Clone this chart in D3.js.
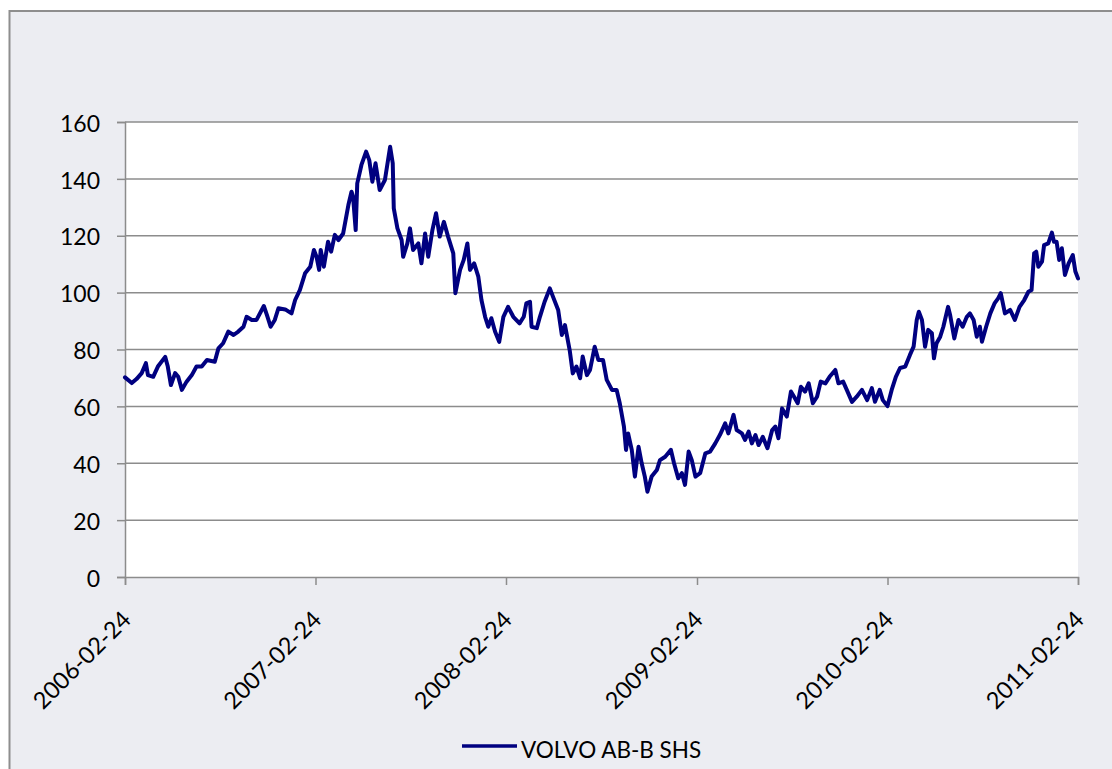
<!DOCTYPE html>
<html>
<head>
<meta charset="utf-8">
<script src="https://cdn.jsdelivr.net/npm/d3@7/dist/d3.min.js"></script>
<style>
  html, body { margin: 0; padding: 0; background: #ffffff; }
  svg { display: block; }
  text { font-family: Lato, "Open Sans", sans-serif; fill: #000; }
</style>
</head>
<body>
<svg id="chart" width="1112" height="769"></svg>
<script>
// ---- data ----
const seriesName = "VOLVO AB-B SHS";
const xTickDates = ["2006-02-24", "2007-02-24", "2008-02-24", "2009-02-24", "2010-02-24", "2011-02-24"];
const yTickValues = [0, 20, 40, 60, 80, 100, 120, 140, 160];

const priceDates = [
  "2006-02-24","2006-03-09","2006-03-18","2006-03-28","2006-04-05","2006-04-09","2006-04-19","2006-04-28",
  "2006-05-12","2006-05-17","2006-05-23","2006-05-31","2006-06-06","2006-06-13","2006-06-22","2006-07-02",
  "2006-07-11","2006-07-21","2006-07-31","2006-08-15","2006-08-22","2006-08-31","2006-09-10","2006-09-20",
  "2006-09-29","2006-10-09","2006-10-15","2006-10-25","2006-11-03","2006-11-17","2006-11-23","2006-11-30",
  "2006-12-08","2006-12-15","2006-12-28","2007-01-09","2007-01-16","2007-01-25","2007-02-04","2007-02-14",
  "2007-02-21","2007-02-26","2007-03-03","2007-03-06","2007-03-12","2007-03-20","2007-03-26","2007-04-02",
  "2007-04-09","2007-04-18","2007-04-28","2007-05-04","2007-05-07","2007-05-12","2007-05-15","2007-05-23",
  "2007-06-01","2007-06-07","2007-06-13","2007-06-19","2007-06-27","2007-07-07","2007-07-17","2007-07-22",
  "2007-07-24","2007-07-31","2007-08-08","2007-08-11","2007-08-19","2007-08-24","2007-08-30","2007-09-09",
  "2007-09-15","2007-09-22","2007-09-28","2007-10-06","2007-10-13","2007-10-20","2007-10-28","2007-11-05",
  "2007-11-15","2007-11-19","2007-11-28","2007-12-05","2007-12-12","2007-12-17","2007-12-25","2008-01-02",
  "2008-01-08","2008-01-15","2008-01-21","2008-01-27","2008-02-03","2008-02-11","2008-02-19","2008-02-28",
  "2008-03-09","2008-03-21","2008-03-29","2008-04-03","2008-04-10","2008-04-13","2008-04-23","2008-04-29",
  "2008-05-08","2008-05-18","2008-05-24","2008-06-03","2008-06-10","2008-06-16","2008-06-25","2008-07-01",
  "2008-07-08","2008-07-15","2008-07-20","2008-07-28","2008-08-03","2008-08-12","2008-08-19","2008-08-28",
  "2008-09-04","2008-09-14","2008-09-23","2008-09-29","2008-10-07","2008-10-11","2008-10-15","2008-10-22",
  "2008-10-28","2008-11-04","2008-11-10","2008-11-16","2008-11-21","2008-11-29","2008-12-09","2008-12-15",
  "2008-12-25","2009-01-05","2009-01-11","2009-01-19","2009-01-26","2009-02-01","2009-02-08","2009-02-14",
  "2009-02-21","2009-03-02","2009-03-12","2009-03-21","2009-03-31","2009-04-09","2009-04-19","2009-04-25",
  "2009-05-05","2009-05-11","2009-05-21","2009-05-27","2009-06-03","2009-06-09","2009-06-16","2009-06-22",
  "2009-06-30","2009-07-09","2009-07-18","2009-07-24","2009-07-30","2009-08-06","2009-08-15","2009-08-23",
  "2009-08-29","2009-09-05","2009-09-11","2009-09-19","2009-09-26","2009-10-04","2009-10-12","2009-10-19",
  "2009-10-28","2009-11-05","2009-11-16","2009-11-22","2009-12-01","2009-12-08","2009-12-18","2009-12-27",
  "2010-01-06","2010-01-16","2010-01-25","2010-01-31","2010-02-09","2010-02-15","2010-02-24","2010-03-04",
  "2010-03-12","2010-03-20","2010-03-30","2010-04-08","2010-04-15","2010-04-21","2010-04-25","2010-05-01",
  "2010-05-07","2010-05-13","2010-05-20","2010-05-24","2010-05-29","2010-06-05","2010-06-11","2010-06-20",
  "2010-06-24","2010-07-02","2010-07-10","2010-07-18","2010-07-26","2010-08-01","2010-08-08","2010-08-14",
  "2010-08-20","2010-08-24","2010-09-01","2010-09-09","2010-09-17","2010-09-24","2010-09-29","2010-10-07",
  "2010-10-17","2010-10-26","2010-11-04","2010-11-13","2010-11-21","2010-11-27","2010-12-02","2010-12-06",
  "2010-12-10","2010-12-17","2010-12-21","2010-12-29","2011-01-05","2011-01-09","2011-01-14","2011-01-19",
  "2011-01-24","2011-01-30","2011-02-06","2011-02-14","2011-02-19","2011-02-24"
];
const priceValues = [
  70.2,68.2,69.6,71.7,75.2,71.0,70.4,74.0,
  77.4,74.0,67.5,71.7,70.4,65.8,68.7,71.0,
  74.0,74.0,76.3,75.7,80.4,82.2,86.3,85.1,
  86.3,88.0,91.5,90.4,90.4,95.3,92.1,88.0,
  90.4,94.5,94.1,92.7,97.4,100.9,106.8,109.1,
  115.0,112.6,108.0,115.0,109.1,117.9,114.4,120.3,
  118.5,120.8,130.8,135.5,133.7,122.0,138.4,144.9,
  149.6,146.6,139.0,145.5,136.1,139.6,151.3,145.5,
  129.6,122.6,118.5,112.6,117.3,122.6,115.0,117.3,
  110.3,120.8,112.6,122.0,127.9,119.7,124.9,119.7,
  113.8,99.8,108.0,111.5,117.3,108.0,110.3,105.6,
  97.4,91.5,88.0,91.0,86.3,82.7,91.5,95.0,
  91.5,89.2,91.5,96.2,96.8,88.0,87.5,91.5,
  96.8,101.5,98.6,93.9,85.1,88.6,79.8,71.6,
  74.0,69.9,77.5,71.0,72.8,81.0,76.3,76.3,
  69.3,65.8,65.8,61.1,52.9,44.7,50.5,44.7,
  35.3,45.8,40.0,35.3,30.0,35.3,37.6,41.1,
  42.3,44.7,40.0,34.7,36.5,32.4,44.1,41.1,
  35.3,36.5,43.5,44.1,47.0,50.0,54.0,50.5,
  57.0,51.7,50.5,48.2,51.1,47.0,49.9,46.4,
  49.3,45.3,51.7,52.9,48.8,59.3,56.4,65.2,
  63.4,61.1,66.9,65.2,68.1,61.1,63.4,68.7,
  68.1,70.4,72.8,68.1,68.7,65.8,61.6,63.4,
  65.8,62.2,66.4,61.6,65.8,62.2,60.1,65.8,
  70.4,73.5,74.0,78.1,81.0,90.4,93.3,90.4,
  81.0,86.9,85.7,76.9,82.2,84.5,88.0,95.0,
  92.1,83.9,90.4,88.0,91.5,92.7,90.4,84.5,
  88.0,82.7,88.0,92.7,96.2,98.0,99.8,92.7,
  93.9,90.4,95.0,97.4,100.3,100.9,113.8,114.4,
  109.1,110.9,116.7,117.3,121.1,117.9,117.9,111.5,
  115.6,106.2,110.3,113.2,107.4,105.0
];

// ---- chart ----
const parse = d3.timeParse("%Y-%m-%d");
const data = priceDates.map((d, i) => ({ date: parse(d), value: priceValues[i] }));
const tickDates = xTickDates.map(parse);

const svg = d3.select("#chart");
const W = 1112, H = 769;
const plot = { left: 125, right: 1078, top: 122, bottom: 577 };
const FONT = "Lato, 'Open Sans', sans-serif";

// outer chart area
svg.append("rect")
  .attr("x", 9.5).attr("y", 11).attr("width", W + 20).attr("height", H + 20)
  .attr("fill", "#ECEDF2").attr("stroke", "#8E8E8E").attr("stroke-width", 2);

// plot area
svg.append("rect")
  .attr("x", plot.left).attr("y", plot.top)
  .attr("width", plot.right - plot.left).attr("height", plot.bottom - plot.top)
  .attr("fill", "#ffffff");

const x = d3.scaleTime().domain([tickDates[0], tickDates[tickDates.length - 1]])
  .range([plot.left, plot.right]);
const y = d3.scaleLinear().domain([0, 160]).range([plot.bottom, plot.top]);

// gridlines
svg.append("g").selectAll("line").data(yTickValues.filter(v => v > 0)).join("line")
  .attr("x1", plot.left).attr("x2", plot.right)
  .attr("y1", d => y(d)).attr("y2", d => y(d))
  .attr("stroke", "#8C8C8C").attr("stroke-width", 1.5);

// y axis
const yAxis = svg.append("g").attr("transform", `translate(${plot.left},0)`)
  .call(d3.axisLeft(y).tickValues(yTickValues).tickSize(8).tickPadding(17).tickFormat(d3.format("d")));
yAxis.select(".domain").attr("stroke", "#8C8C8C").attr("stroke-width", 1.5);
yAxis.selectAll(".tick line").attr("stroke", "#8C8C8C").attr("stroke-width", 1.5);
yAxis.selectAll(".tick text").attr("font-size", 23).attr("font-family", FONT)
  .attr("fill", "#000").attr("dy", "0.4em");

// x axis
const xAxis = svg.append("g").attr("transform", `translate(0,${plot.bottom})`)
  .call(d3.axisBottom(x).tickValues(tickDates).tickSize(8).tickFormat(d3.timeFormat("%Y-%m-%d")));
xAxis.select(".domain").attr("stroke", "#8C8C8C").attr("stroke-width", 1.5);
xAxis.selectAll(".tick line").attr("stroke", "#8C8C8C").attr("stroke-width", 1.5);
xAxis.selectAll(".tick text")
  .attr("font-size", 23.5).attr("font-family", FONT).attr("fill", "#000")
  .attr("text-anchor", "end").attr("y", 0).attr("dy", 0)
  .attr("transform", "translate(7,44) rotate(-45)");

// line
const line = d3.line().x(d => x(d.date)).y(d => y(d.value));
svg.append("path").datum(data)
  .attr("d", line)
  .attr("fill", "none").attr("stroke", "#000080").attr("stroke-width", 4)
  .attr("stroke-linejoin", "round").attr("stroke-linecap", "round");

// legend
const lg = svg.append("g");
lg.append("line").attr("x1", 462).attr("x2", 517).attr("y1", 746).attr("y2", 746)
  .attr("stroke", "#000080").attr("stroke-width", 3.5);
lg.append("text").attr("x", 521).attr("y", 758).attr("font-size", 22.5).attr("font-family", FONT)
  .text(seriesName);
</script>
</body>
</html>
